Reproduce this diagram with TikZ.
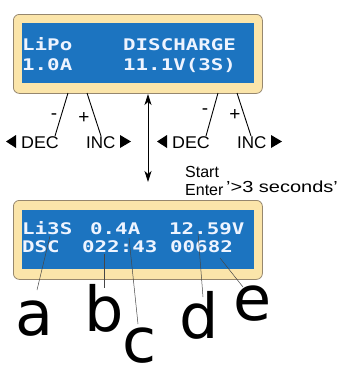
\documentclass[tikz,border=0pt]{standalone}
\usepackage{fontspec}
\usepackage{graphicx}
\setmainfont{Liberation Sans}
\newfontfamily\lcdfont{DejaVu Sans Mono}
\newfontfamily\letterfont{DejaVu Sans}
\usetikzlibrary{arrows.meta}
\definecolor{framefill}{RGB}{251,229,170}
\definecolor{framegray}{RGB}{150,135,110}
\definecolor{lcdblue}{RGB}{28,116,192}
\definecolor{lcdwhite}{RGB}{238,244,255}
\definecolor{leadergray}{RGB}{70,70,70}
\newcommand{\lcdtxt}[1]{{\lcdfont\bfseries\fontsize{16}{16}\selectfont\scalebox{1.3}[1]{#1}}}
\begin{document}
\begin{tikzpicture}[x=1pt,y=-1pt,
  lcdframe/.style={draw=framegray, fill=framefill, rounded corners=6pt, line width=0.8pt, anchor=north west, inner sep=0pt},
  lcdscreen/.style={fill=lcdblue, anchor=north west, inner sep=0pt},
  lcdtext/.style={anchor=base west, inner sep=0pt, text=lcdwhite},
  keytext/.style={anchor=base west, inner sep=0pt, font=\fontsize{17}{17}\selectfont},
  signtext/.style={inner sep=0pt, font=\fontsize{19}{19}\selectfont},
  hinttext/.style={anchor=base west, inner sep=0pt, font=\fontsize{16}{16}\selectfont},
  bigletter/.style={anchor=base, inner sep=0pt, font=\letterfont\fontsize{62}{62}\selectfont},
  keyline/.style={draw=black, line width=0.9pt},
  leader/.style={draw=leadergray, line width=0.5pt},
  tri/.style={fill=black}
]
\clip (0,0) rectangle (349,367);
\useasboundingbox (0,0) rectangle (349,367);

% top display
\node[lcdframe, minimum width=249pt, minimum height=79pt] (topframe) at (13,14) {};
\node[lcdscreen, minimum width=232pt, minimum height=60pt] (topscreen) at (22,23) {};
\node[lcdtext] (tl1a) at (22,50) {\lcdtxt{LiPo}};
\node[lcdtext] (tl1b) at (123,50) {\lcdtxt{DISCHARGE}};
\node[lcdtext] (tl2a) at (22,70) {\lcdtxt{1.0A}};
\node[lcdtext] (tl2b) at (123,70) {\lcdtxt{11.1V(3S)}};

% bottom display
\node[lcdframe, minimum width=249pt, minimum height=79pt] (botframe) at (13,200) {};
\node[lcdscreen, minimum width=232pt, minimum height=59pt] (botscreen) at (22,210) {};
\node[lcdtext] (bl1a) at (22,234) {\lcdtxt{Li3S}};
\node[lcdtext] (bl1b) at (90,234) {\lcdtxt{0.4A}};
\node[lcdtext] (bl1c) at (169,234) {\lcdtxt{12.59V}};
\node[lcdtext] (bl2a) at (22,252) {\lcdtxt{DSC}};
\node[lcdtext] (bl2b) at (82,252) {\lcdtxt{022:43}};
\node[lcdtext] (bl2c) at (170,252) {\lcdtxt{00682}};

% keys, left pair
\node[keytext] (dec1) at (21,148) {\scalebox{1.05}[1]{DEC}};
\node[keytext] (inc1) at (86,148) {INC};
\node[signtext] (minus1) at (54,117) {-};
\node[signtext] (plus1) at (84,118) {+};
\fill[tri] (16,135) -- (6,141.5) -- (16,148) -- cycle;
\fill[tri] (120,135) -- (131,141.5) -- (120,148) -- cycle;
\coordinate (d1top) at (68,93);
\coordinate (d1bot) at (55,136);
\coordinate (i1top) at (87,93);
\coordinate (i1bot) at (101,136);
\draw[keyline] (d1top) -- (d1bot);
\draw[keyline] (i1top) -- (i1bot);

% keys, right pair
\node[keytext] (dec2) at (172,148) {\scalebox{1.05}[1]{DEC}};
\node[keytext] (inc2) at (237,148) {INC};
\node[signtext] (minus2) at (205,112) {-};
\node[signtext] (plus2) at (235,115) {+};
\fill[tri] (167,135) -- (157,141.5) -- (167,148) -- cycle;
\fill[tri] (271,135) -- (282,141.5) -- (271,148) -- cycle;
\coordinate (d2top) at (218,93);
\coordinate (d2bot) at (206,136);
\coordinate (i2top) at (237,93);
\coordinate (i2bot) at (251,136);
\draw[keyline] (d2top) -- (d2bot);
\draw[keyline] (i2top) -- (i2bot);

% enter arrow
\coordinate (arrtop) at (148,94);
\coordinate (arrbot) at (148,182);
\draw[keyline, {Stealth[length=11pt,width=7pt,inset=3pt]}-{Stealth[length=11pt,width=7pt,inset=3pt]}] (arrtop) -- (arrbot);
\node[hinttext] (start) at (185,177) {Start};
\node[hinttext] (enter) at (185,195) {Enter};
\node[hinttext] (secs) at (226,192) {\scalebox{1.25}[1]{'>3 seconds'}};

% big letters
\node[bigletter] (la) at (34,335) {a};
\node[bigletter] (lb) at (104,331) {b};
\node[bigletter] (lc) at (140,362) {c};
\node[bigletter] (ld) at (199,338) {d};
\node[bigletter] (le) at (253,320) {e};

% leaders
\coordinate (ta) at (50,236);
\coordinate (ea) at (37,290);
\coordinate (tb) at (104,254);
\coordinate (eb) at (104,288);
\coordinate (tc) at (129,238);
\coordinate (ec) at (138,324);
\coordinate (td) at (198,233);
\coordinate (ed) at (203,297);
\coordinate (te) at (220,258);
\coordinate (ee) at (243,287);
\draw[leader] (ta) -- (ea);
\draw[leader] (tb) -- (eb);
\draw[leader] (tc) -- (ec);
\draw[leader] (td) -- (ed);
\draw[leader] (te) -- (ee);
\end{tikzpicture}
\end{document}
